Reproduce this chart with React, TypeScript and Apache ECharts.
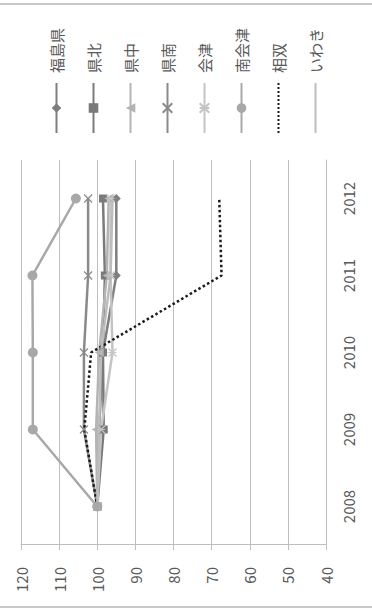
import React, { useEffect, useRef } from "react";
import * as echarts from "echarts";

const years = ["2008", "2009", "2010", "2011", "2012"];
const seriesNames = ["福島県", "県北", "県中", "県南", "会津", "南会津", "相双", "いわき"];
const fukushima = [100, 99.5, 98.5, 95.0, 95.0];
const kenpoku = [100, 98.3, 98.5, 98.0, 98.5];
const kenchu = [100, 100.3, 99.5, 97.5, 97.0];
const kennan = [100, 103.5, 103.5, 102.4, 102.4];
const aizu = [100, 99.0, 96.0, 96.5, 96.5];
const minamiaizu = [100, 116.9, 116.9, 117.0, 105.6];
const souso = [100, 103.4, 101.6, 67.4, 68.0];
const iwaki = [100, 99.5, 99.0, 96.5, 96.0];
const valueTicks = { min: 40, max: 120, interval: 10 };

const FONT = "'Noto Sans CJK JP', 'Noto Sans', sans-serif";

export default function App() {
  const ref = useRef<HTMLDivElement>(null);
  useEffect(() => {
    if (!ref.current) return;
    const chart = echarts.init(ref.current, null, { renderer: "svg" });
    const mk = (
      name: string,
      data: number[],
      color: string,
      symbol: string,
      symbolSize: number,
      extra: any = {}
    ) => ({
      name,
      type: "line",
      data,
      symbol,
      symbolSize,
      showSymbol: symbol !== "none",
      lineStyle: { color, width: 2.5, ...(extra.lineStyle || {}) },
      itemStyle: { color, borderColor: color, borderWidth: extra.borderWidth ?? 0 },
      emphasis: { disabled: true },
    });
    const xPath = "path://M0,0L10,10M10,0L0,10";
    const starPath = "path://M0,0L10,10M10,0L0,10M5,0L5,10";
    const noMarker = ["相双", "いわき"];
    chart.setOption({
      animation: false,
      textStyle: { fontFamily: FONT },
      grid: { left: 65, right: 160, top: 21, bottom: 46 },
      legend: {
        orient: "vertical",
        left: 476,
        top: 49,
        itemWidth: 50,
        itemHeight: 12,
        itemGap: 22,
        padding: 0,
        data: seriesNames.map((n) =>
          noMarker.includes(n) ? { name: n, itemStyle: { opacity: 0 } } : { name: n }
        ),
        textStyle: { fontSize: 15, color: "#595959", fontFamily: FONT, padding: [0, 0, 0, 5] },
      },
      xAxis: {
        type: "category",
        data: years,
        boundaryGap: true,
        axisLine: { lineStyle: { color: "#bfbfbf", width: 1 } },
        axisTick: { length: 6, lineStyle: { color: "#bfbfbf" } },
        axisLabel: { fontSize: 15, color: "#595959", margin: 15, fontFamily: FONT },
      },
      yAxis: {
        type: "value",
        min: valueTicks.min,
        max: valueTicks.max,
        interval: valueTicks.interval,
        axisLine: { show: true, lineStyle: { color: "#bfbfbf", width: 1 } },
        axisTick: { show: true, length: 5, lineStyle: { color: "#bfbfbf" } },
        splitLine: { lineStyle: { color: "#bfbfbf", width: 1 } },
        axisLabel: { fontSize: 15, color: "#595959", margin: 22, fontFamily: FONT },
      },
      graphic: [
        {
          type: "rect",
          shape: { x: 3, y: -10, width: 603, height: 392 },
          style: { fill: "none", stroke: "#c8c8c8", lineWidth: 2 },
          silent: true,
        },
      ],
      series: [
        mk(seriesNames[0], fukushima, "#7f7f7f", "diamond", 9),
        mk(seriesNames[1], kenpoku, "#7a7a7a", "rect", 8),
        mk(seriesNames[2], kenchu, "#b4b4b4", "triangle", 9),
        mk(seriesNames[3], kennan, "#8a8a8a", xPath, 8, { borderWidth: 1.2 }),
        mk(seriesNames[4], aizu, "#c4c4c4", starPath, 8, { borderWidth: 1.2 }),
        mk(seriesNames[5], minamiaizu, "#a8a8a8", "circle", 10),
        mk(seriesNames[6], souso, "#1a1a1a", "none", 0, { lineStyle: { type: "dotted", width: 2.5 } }),
        mk(seriesNames[7], iwaki, "#bdbdbd", "none", 0),
      ],
    });
    return () => chart.dispose();
  }, []);
  return (
    <div
      style={{
        position: "fixed",
        left: 0,
        top: 0,
        width: 372,
        height: 610,
        overflow: "hidden",
        background: "#fff",
      }}
    >
      <div
        ref={ref}
        style={{
          position: "absolute",
          left: 0,
          top: 0,
          width: 610,
          height: 372,
          transformOrigin: "0 0",
          transform: "translateY(610px) rotate(-90deg)",
        }}
      />
    </div>
  );
}
